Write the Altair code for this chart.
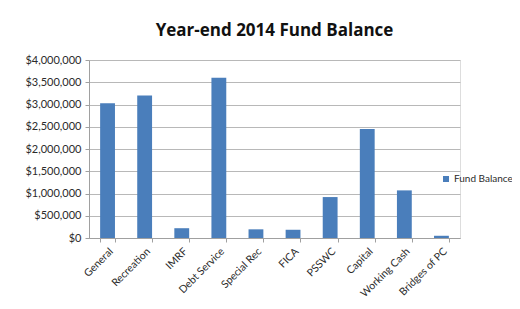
import altair as alt
import pandas as pd

funds = ["General", "Recreation", "IMRF", "Debt Service", "Special Rec", "FICA",
         "PSSWC", "Capital", "Working Cash", "Bridges of PC"]
balances = [3030000, 3200000, 220000, 3600000, 195000, 185000,
            920000, 2450000, 1070000, 50000]
y_ticks = [0, 500000, 1000000, 1500000, 2000000, 2500000, 3000000, 3500000, 4000000]
series = "Fund Balance"

df = pd.DataFrame({"fund": funds, "balance": balances, "series": [series] * len(funds)})

FONT = "Lato"

chart = alt.Chart(df).mark_bar(color="#4a7ebb").encode(
    x=alt.X("fund:N", sort=funds, title=None,
            scale=alt.Scale(paddingInner=0.6, paddingOuter=0.3),
            axis=alt.Axis(labelAngle=-45, labelAlign="right", labelBaseline="top",
                          tickBand="extent", tickSize=4, tickColor="#a0a0a0",
                          domainColor="#a0a0a0", labelFont=FONT, labelFontSize=10.5,
                          labelColor="#2b2b2b", labelPadding=4, grid=False)),
    y=alt.Y("balance:Q", title=None,
            scale=alt.Scale(domain=[0, 4000000], nice=False),
            axis=alt.Axis(values=y_ticks, format="$,.0f", tickSize=4,
                          tickColor="#a0a0a0", domainColor="#a0a0a0",
                          gridColor="#b8b8b8", labelFont=FONT, labelFontSize=11,
                          labelColor="#2b2b2b", labelPadding=4)),
    color=alt.Color("series:N", scale=alt.Scale(range=["#4a7ebb"]),
                    legend=alt.Legend(title=None, orient="none", legendX=352, legendY=114,
                                      symbolType="square", symbolSize=36,
                                      symbolOffset=0, labelOffset=3,
                                      labelFont=FONT, labelFontSize=10,
                                      labelColor="#2b2b2b", labelLimit=200)),
).properties(
    width=371,
    height=178,
    title=alt.TitleParams("Year-end 2014 Fund Balance", font="Open Sans",
                          fontSize=17, fontWeight="bold", color="#111111",
                          anchor="middle", offset=14),
    autosize=alt.AutoSizeParams(type="none"),
    padding={"left": 81, "top": 52, "right": 52, "bottom": 63},
).configure_view(stroke=None).configure(background="white")

chart.save("out.html", embed_options={"renderer": "svg", "actions": False})
